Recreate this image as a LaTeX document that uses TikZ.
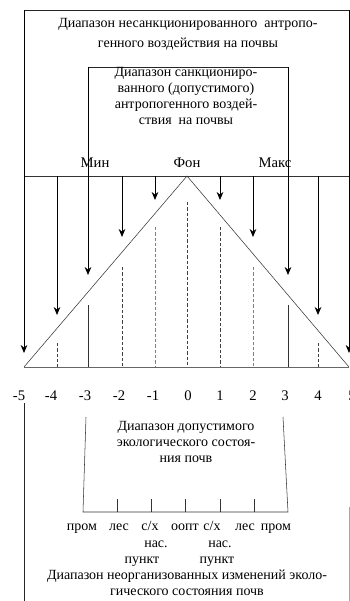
\documentclass[tikz,border=0pt]{standalone}
\usepackage{fontspec}
\setmainfont{Liberation Serif}
\usetikzlibrary{arrows.meta,positioning}
\tikzset{
  rangetext/.style={align=center, inner sep=0pt, anchor=base,
    font=\fontsize{10.5}{12}\selectfont},
  marklabel/.style={anchor=base, inner sep=0pt, font=\fontsize{11}{12}\selectfont},
  ticklabel/.style={anchor=base, inner sep=0pt, font=\fontsize{11}{12}\selectfont},
  zonelabel/.style={anchor=base, inner sep=0pt, font=\fontsize{10.5}{12}\selectfont},
  frameline/.style={draw=black!85, semithick},
  impactarrow/.style={-{Stealth[length=6pt,width=5pt]}, draw=black, semithick},
  levelline/.style={draw=black!75, thin, dash pattern=on 2.5pt off 1.5pt},
  stateline/.style={draw=black!80, thin},
}

\begin{document}
\begin{tikzpicture}[x=0.75pt, y=-0.75pt]
  \useasboundingbox (0,0) rectangle (350,601);

  % Frames (outer: unsanctioned, inner: sanctioned)
  \coordinate (outerL) at (24,10);
  \coordinate (outerR) at (349,10);
  \coordinate (innerL) at (88,67);
  \coordinate (innerR) at (288,67);
  \draw[frameline] (outerL) -- (outerR);
  \draw[frameline] (innerL) -- (innerR);

  % base of a multi-line node = baseline of its last line
  \node[rangetext, font=\fontsize{10.5}{15}\selectfont] (wildtext) at (188,47)
    {Диапазон несанкционированного\ \ антропо-\\генного воздействия на почвы};
  \node[rangetext] (legaltext) at (186,124)
    {Диапазон санкциониро-\\ванного (допустимого)\\антропогенного воздей-\\ствия\ \ на почвы};

  % Level line and triangle
  \coordinate (levelL) at (24,176);
  \coordinate (levelR) at (349,176);
  \coordinate (apex) at (187,176);
  \coordinate (baseL) at (24,367);
  \coordinate (baseR) at (349,367);
  \draw[stateline] (levelL) -- (levelR);
  \draw[stateline] (baseL) -- (apex) -- (baseR);
  \draw[stateline, draw=black!60] (baseL) -- (baseR);

  \node[marklabel] (minlbl) at (95,167) {Мин};
  \node[marklabel] (fonlbl) at (187,167) {Фон};
  \node[marklabel] (maxlbl) at (275,167) {Макс};

  % Arrow ends above the triangle
  \coordinate (tm4) at (57,176);  \coordinate (am4) at (57,315);
  \coordinate (tm2) at (122,176); \coordinate (am2) at (122,237);
  \coordinate (tm1) at (155,176); \coordinate (am1) at (155,200);
  \coordinate (tp1) at (220,176); \coordinate (ap1) at (220,200);
  \coordinate (tp2) at (253,176); \coordinate (ap2) at (253,237);
  \coordinate (tp4) at (318,176); \coordinate (ap4) at (318,315);
  \coordinate (am5) at (24,353);  \coordinate (ap5) at (349,353);
  \coordinate (am3) at (88,275);  \coordinate (ap3) at (288,275);

  \draw[impactarrow] (outerL) -- (am5);
  \draw[impactarrow] (outerR) -- (ap5);
  \draw[impactarrow] (innerL) -- (am3);
  \draw[impactarrow] (innerR) -- (ap3);
  \draw[impactarrow] (tm4) -- (am4);
  \draw[impactarrow] (tm2) -- (am2);
  \draw[impactarrow] (tm1) -- (am1);
  \draw[impactarrow] (tp1) -- (ap1);
  \draw[impactarrow] (tp2) -- (ap2);
  \draw[impactarrow] (tp4) -- (ap4);

  % Levels inside the triangle
  \coordinate (dm4) at (57,343);  \coordinate (bm4) at (57,367);
  \coordinate (dm3) at (88,305);  \coordinate (bm3) at (88,367);
  \coordinate (dm2) at (122,267); \coordinate (bm2) at (122,367);
  \coordinate (dm1) at (155,227); \coordinate (bm1) at (155,367);
  \coordinate (d0) at (187,202);  \coordinate (b0) at (187,367);
  \coordinate (dp1) at (220,227); \coordinate (bp1) at (220,367);
  \coordinate (dp2) at (253,267); \coordinate (bp2) at (253,367);
  \coordinate (dp3) at (288,305); \coordinate (bp3) at (288,367);
  \coordinate (dp4) at (318,343); \coordinate (bp4) at (318,367);

  \draw[levelline] (dm4) -- (bm4);
  \draw[stateline] (dm3) -- (bm3);
  \draw[levelline] (dm2) -- (bm2);
  \draw[levelline, draw=black!50] (dm1) -- (bm1);
  \draw[levelline] (d0) -- (b0);
  \draw[levelline] (dp1) -- (bp1);
  \draw[levelline, draw=black!50] (dp2) -- (bp2);
  \draw[stateline] (dp3) -- (bp3);
  \draw[levelline] (dp4) -- (bp4);

  % Scale
  \node[ticklabel] (sm5) at (19,400) {-5};
  \node[ticklabel] (sm4) at (51,400) {-4};
  \node[ticklabel] (sm3) at (85,400) {-3};
  \node[ticklabel] (sm2) at (119,400) {-2};
  \node[ticklabel] (sm1) at (153,400) {-1};
  \node[ticklabel] (s0) at (188,400) {0};
  \node[ticklabel] (sp1) at (220,400) {1};
  \node[ticklabel] (sp2) at (253,400) {2};
  \node[ticklabel] (sp3) at (285,400) {3};
  \node[ticklabel] (sp4) at (318,400) {4};
  \node[ticklabel] (sp5) at (352,400) {5};

  % Lower frame
  \coordinate (lowL) at (24,403);   \coordinate (lowLend) at (24,601);
  \coordinate (lowR) at (349,507);  \coordinate (lowRend) at (349,601);
  \draw[frameline] (lowL) -- (lowLend);
  \draw[frameline, draw=black!35] (lowR) -- (lowRend);

  \node[rangetext] (oktext) at (186,462)
    {Диапазон допустимого\\экологического состоя-\\ния почв};

  % Bracket of land-use zones
  \coordinate (brL) at (86,417);  \coordinate (brLb) at (83,512);
  \coordinate (brR) at (283,417); \coordinate (brRb) at (288,512);
  \draw[stateline] (brL) -- (brLb) -- (brRb) -- (brR);
  \coordinate (k1) at (117,512); \coordinate (k1t) at (117,499);
  \coordinate (k2) at (151,512); \coordinate (k2t) at (151,499);
  \coordinate (k3) at (185,512); \coordinate (k3t) at (185,499);
  \coordinate (k4) at (220,512); \coordinate (k4t) at (220,499);
  \coordinate (k5) at (254,512); \coordinate (k5t) at (254,499);
  \draw[stateline] (k1) -- (k1t);
  \draw[stateline] (k2) -- (k2t);
  \draw[stateline] (k3) -- (k3t);
  \draw[stateline] (k4) -- (k4t);
  \draw[stateline] (k5) -- (k5t);

  \node[zonelabel] (prom1) at (82,530) {пром};
  \node[zonelabel] (les1) at (119,530) {лес};
  \node[zonelabel] (agr1) at (150,530) {с/х};
  \node[zonelabel] (oopt) at (185,530) {оопт};
  \node[zonelabel] (agr2) at (212,530) {с/х};
  \node[zonelabel] (les2) at (245,530) {лес};
  \node[zonelabel] (prom2) at (276,530) {пром};
  \node[zonelabel] (nas1) at (156,547) {нас.};
  \node[zonelabel] (nas2) at (220,547) {нас.};
  \node[zonelabel] (punkt1) at (142,563) {пункт};
  \node[zonelabel] (punkt2) at (217,563) {пункт};

  \node[rangetext, font=\fontsize{10.5}{11.5}\selectfont] (freetext) at (187,595)
    {Диапазон неорганизованных изменений эколо-\\гического состояния почв};

\end{tikzpicture}
\end{document}
